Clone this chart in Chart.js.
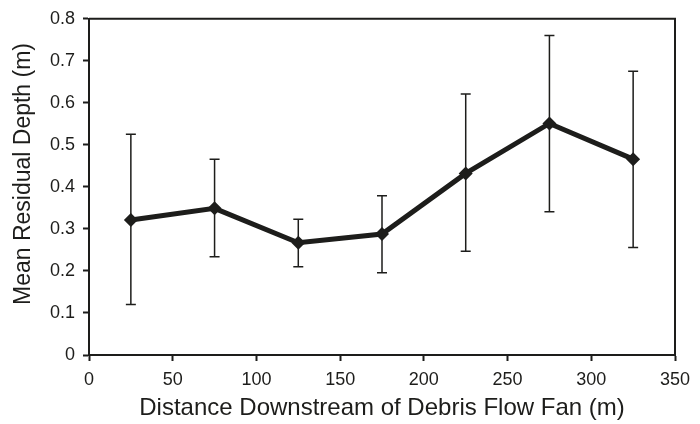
<!DOCTYPE html>
<html>
<head>
<meta charset="utf-8">
<script src="https://cdn.jsdelivr.net/npm/chart.js@4/dist/chart.umd.min.js"></script>
<style>
  html, body { margin: 0; padding: 0; background: #fff; }
</style>
</head>
<body>
<canvas id="chart" width="700" height="424"></canvas>
<script>
// distance downstream (m) and mean residual depth (m) with error bar ends
const distances = [25, 75, 125, 175, 225, 275, 325];
const meanDepth = [0.321, 0.349, 0.267, 0.288, 0.432, 0.551, 0.466];
const upperDepth = [0.525, 0.466, 0.323, 0.379, 0.621, 0.760, 0.675];
const lowerDepth = [0.120, 0.234, 0.210, 0.196, 0.247, 0.341, 0.256];

const xTitle = "Distance Downstream of Debris Flow Fan (m)";
const yTitle = "Mean Residual Depth (m)";

const ink = "#1d1d1b";
const fontFamily = "'Liberation Sans', Arial, Helvetica, sans-serif";

// whiskers under the line, the top/right sides of the box, and the y title
// (drawn by hand because it sits a little above the axis centre)
const errorBars = {
  id: "errorBars",
  beforeDatasetsDraw(chart) {
    const { ctx, scales: { x, y } } = chart;
    ctx.save();
    ctx.strokeStyle = ink;
    ctx.lineWidth = 1.5;
    distances.forEach((d, i) => {
      const px = x.getPixelForValue(d);
      const top = y.getPixelForValue(upperDepth[i]);
      const bot = y.getPixelForValue(lowerDepth[i]);
      ctx.beginPath();
      ctx.moveTo(px, top);
      ctx.lineTo(px, bot);
      ctx.moveTo(px - 5, top);
      ctx.lineTo(px + 5, top);
      ctx.moveTo(px - 5, bot);
      ctx.lineTo(px + 5, bot);
      ctx.stroke();
    });
    ctx.restore();
  },
  afterDraw(chart) {
    const { ctx, chartArea: a } = chart;
    ctx.save();
    ctx.strokeStyle = ink;
    ctx.lineWidth = 2;
    ctx.beginPath();
    ctx.moveTo(a.left, a.top);
    ctx.lineTo(a.right, a.top);
    ctx.lineTo(a.right, a.bottom);
    ctx.stroke();

    ctx.translate(23.5, 174);
    ctx.rotate(-Math.PI / 2);
    ctx.fillStyle = ink;
    ctx.font = "23px " + fontFamily;
    ctx.textAlign = "center";
    ctx.textBaseline = "middle";
    ctx.fillText(yTitle, 0, 0);
    ctx.restore();
  },
};

new Chart(document.getElementById("chart"), {
  type: "line",
  data: {
    datasets: [
      {
        data: distances.map((d, i) => ({ x: d, y: meanDepth[i] })),
        borderColor: ink,
        backgroundColor: ink,
        borderWidth: 5,
        pointStyle: "rectRot",
        pointRadius: 7,
        pointBorderWidth: 0,
        tension: 0,
      },
    ],
  },
  options: {
    responsive: false,
    animation: false,
    layout: { padding: { top: 17, right: 25, left: 0, bottom: 0 } },
    plugins: { legend: { display: false }, tooltip: { enabled: false } },
    scales: {
      x: {
        type: "linear",
        min: 0,
        max: 350,
        afterFit: (s) => { s.height = 69; },
        ticks: {
          stepSize: 50,
          color: ink,
          padding: 8,
          font: { family: fontFamily, size: 18 },
        },
        grid: { drawOnChartArea: false, tickLength: 6, tickWidth: 2, tickColor: ink },
        border: { color: ink, width: 2 },
        title: {
          display: true,
          text: xTitle,
          color: ink,
          padding: { top: 0, bottom: 1 },
          font: { family: fontFamily, size: 24 },
        },
      },
      y: {
        min: 0,
        max: 0.8,
        afterFit: (s) => { s.width = 89; },
        ticks: {
          stepSize: 0.1,
          color: ink,
          padding: 8,
          font: { family: fontFamily, size: 18 },
          callback: (v) => (v === 0 ? "0" : v.toFixed(1)),
        },
        grid: { drawOnChartArea: false, tickLength: 6, tickWidth: 2, tickColor: ink },
        border: { color: ink, width: 2 },
        title: { display: false },
      },
    },
  },
  plugins: [errorBars],
});
</script>
</body>
</html>
